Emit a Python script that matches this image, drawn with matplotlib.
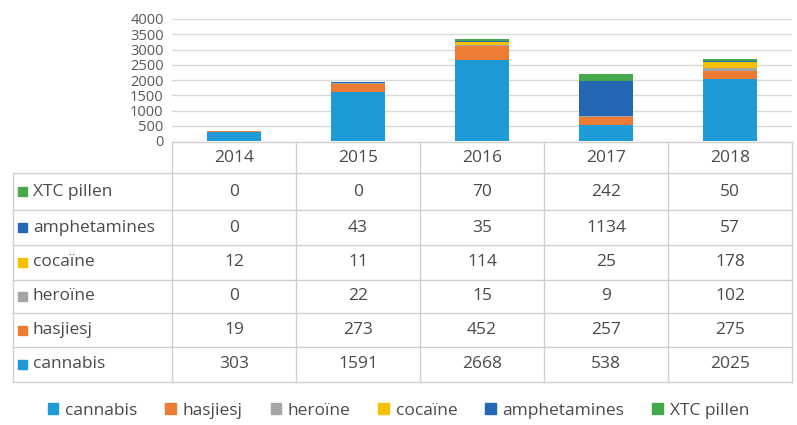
import matplotlib
matplotlib.use('Agg')
import matplotlib.pyplot as plt
from matplotlib.patches import Patch
import numpy as np

plt.rcParams['font.family'] = ['Open Sans', 'DejaVu Sans']

years = ["2014", "2015", "2016", "2017", "2018"]
drugs = ["cannabis", "hasjiesj", "heroïne", "cocaïne", "amphetamines", "XTC pillen"]
cannabis = [303, 1591, 2668, 538, 2025]
hasjiesj = [19, 273, 452, 257, 275]
heroine = [0, 22, 15, 9, 102]
cocaine = [12, 11, 114, 25, 178]
amphetamines = [0, 43, 35, 1134, 57]
xtc = [0, 0, 70, 242, 50]
colors = ["#1E9BD7", "#EC7B33", "#A5A5A5", "#F5C000", "#2467B4", "#43A94B"]

series = [cannabis, hasjiesj, heroine, cocaine, amphetamines, xtc]
W, H = 797, 425
txt = "#4A4A4A"
grid = "#D9D9D9"
fs = 12.5

fig = plt.figure(figsize=(W / 100, H / 100), dpi=100)

# bar chart area (pixel positions of the reference)
x0, x1, y0, y1 = 172, 792, 141, 19
ax = fig.add_axes([x0 / W, (H - y0) / H, (x1 - x0) / W, (y0 - y1) / H])
x = np.arange(len(years))
bottom = np.zeros(len(years))
for vals, c in zip(series, colors):
    ax.bar(x, vals, width=0.43, bottom=bottom, color=c, zorder=3)
    bottom += np.array(vals)
ax.set_xlim(-0.5, len(years) - 0.5)
ax.set_ylim(0, 4000)
ax.set_yticks(range(0, 4001, 500))
ax.tick_params(axis='y', length=0, labelsize=10.5, labelcolor="#595959", pad=6)
ax.set_xticks([])
ax.grid(axis='y', color=grid, linewidth=1, zorder=0)
for s in ax.spines.values():
    s.set_visible(False)

# data table drawn in pixel space
tb = fig.add_axes([0, 0, 1, 1])
tb.set_xlim(0, W)
tb.set_ylim(H, 0)
tb.axis('off')
left = 13
col_edges = [x0 + i * (x1 - x0) / len(years) for i in range(len(years) + 1)]
row_edges = [142, 173, 210, 245, 280, 313, 347, 382]
lc = "#D0D0D0"
tb.plot([x0, x1], [row_edges[0]] * 2, color=lc, lw=1)
for ry in row_edges[1:]:
    tb.plot([left, x1], [ry, ry], color=lc, lw=1)
tb.plot([left, left], [row_edges[1], row_edges[-1]], color=lc, lw=1)
for cx in col_edges:
    tb.plot([cx, cx], [row_edges[0], row_edges[-1]], color=lc, lw=1)

for j, yr in enumerate(years):
    cx = (col_edges[j] + col_edges[j + 1]) / 2
    tb.text(cx, (row_edges[0] + row_edges[1]) / 2, yr, ha='center', va='center',
            fontsize=fs, color=txt)

# rows top to bottom: XTC ... cannabis
for i, k in enumerate(reversed(range(len(drugs)))):
    cy = (row_edges[i + 1] + row_edges[i + 2]) / 2
    tb.add_patch(plt.Rectangle((18, cy - 4.5), 9, 9, color=colors[k]))
    tb.text(33, cy, drugs[k], ha='left', va='center', fontsize=fs, color=txt)
    for j in range(len(years)):
        cx = (col_edges[j] + col_edges[j + 1]) / 2
        tb.text(cx, cy, str(series[k][j]), ha='center', va='center',
                fontsize=fs, color=txt)

handles = [Patch(color=c, label=d) for c, d in zip(colors, drugs)]
fig.legend(handles=handles, loc='center', bbox_to_anchor=(0.5, (H - 411) / H),
           ncol=6, frameon=False, fontsize=fs, handlelength=0.6, handleheight=0.6,
           handletextpad=0.4, columnspacing=1.6, labelcolor=txt)

fig.savefig("out.png", dpi=100)
